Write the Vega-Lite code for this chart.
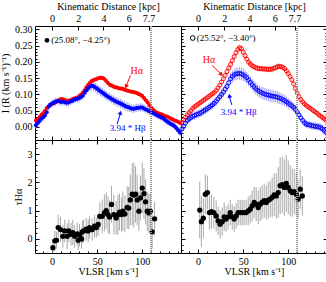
{
"$schema":"https://vega.github.io/schema/vega-lite/v6.json",
"padding":0,
"bounds":"flush",
"spacing":0,
"columns":2,
"config":{"font":"Liberation Serif","view":{"stroke":"black","strokeWidth":1},
"axis":{"domain":false,"grid":false,"tickColor":"black","tickSize":-4,"labelPadding":7,"labelFontSize":10,"titleFontSize":10,"titleFontWeight":"normal","labelColor":"black","titleColor":"black","labelFont":"Liberation Serif","titleFont":"Liberation Serif"}},
"datasets":{
"tl":[
{"v":-18,"a":0.020,"ae":0.005,"b":0.005,"be":0.010},{"v":-16,"a":0.024,"ae":0.005,"b":0.012,"be":0.012},{"v":-14,"a":0.030,"ae":0.006,"b":0.018,"be":0.010},{"v":-12,"a":0.037,"ae":0.005,"b":0.025,"be":0.011},{"v":-10,"a":0.042,"ae":0.006,"b":0.030,"be":0.012},{"v":-8,"a":0.050,"ae":0.005,"b":0.035,"be":0.010},{"v":-6,"a":0.058,"ae":0.006,"b":0.045,"be":0.011},{"v":-4,"a":0.064,"ae":0.005,"b":0.062,"be":0.012},{"v":-2,"a":0.068,"ae":0.005,"b":0.068,"be":0.010},{"v":0,"a":0.071,"ae":0.006,"b":0.072,"be":0.012},{"v":2,"a":0.073,"ae":0.005,"b":0.075,"be":0.011},{"v":4,"a":0.076,"ae":0.005,"b":0.078,"be":0.012},{"v":6,"a":0.080,"ae":0.006,"b":0.080,"be":0.010},{"v":8,"a":0.083,"ae":0.005,"b":0.079,"be":0.012},{"v":10,"a":0.086,"ae":0.005,"b":0.077,"be":0.011},{"v":12,"a":0.085,"ae":0.006,"b":0.078,"be":0.012},{"v":14,"a":0.083,"ae":0.005,"b":0.076,"be":0.010},{"v":16,"a":0.081,"ae":0.005,"b":0.074,"be":0.011},{"v":18,"a":0.080,"ae":0.006,"b":0.075,"be":0.012},{"v":20,"a":0.082,"ae":0.005,"b":0.078,"be":0.010},{"v":22,"a":0.084,"ae":0.005,"b":0.080,"be":0.011},{"v":24,"a":0.087,"ae":0.006,"b":0.083,"be":0.012},{"v":26,"a":0.088,"ae":0.005,"b":0.085,"be":0.011},{"v":28,"a":0.090,"ae":0.005,"b":0.087,"be":0.012},{"v":30,"a":0.094,"ae":0.006,"b":0.089,"be":0.013},{"v":32,"a":0.099,"ae":0.005,"b":0.092,"be":0.012},{"v":34,"a":0.105,"ae":0.006,"b":0.097,"be":0.013},{"v":36,"a":0.113,"ae":0.006,"b":0.105,"be":0.014},{"v":38,"a":0.122,"ae":0.007,"b":0.113,"be":0.013},{"v":40,"a":0.130,"ae":0.006,"b":0.120,"be":0.014},{"v":42,"a":0.136,"ae":0.007,"b":0.124,"be":0.015},{"v":44,"a":0.141,"ae":0.006,"b":0.127,"be":0.014},{"v":46,"a":0.144,"ae":0.007,"b":0.125,"be":0.015},{"v":48,"a":0.146,"ae":0.006,"b":0.121,"be":0.014},{"v":50,"a":0.148,"ae":0.007,"b":0.117,"be":0.015},{"v":52,"a":0.150,"ae":0.006,"b":0.113,"be":0.014},{"v":54,"a":0.151,"ae":0.007,"b":0.109,"be":0.015},{"v":56,"a":0.150,"ae":0.006,"b":0.105,"be":0.014},{"v":58,"a":0.147,"ae":0.007,"b":0.101,"be":0.013},{"v":60,"a":0.141,"ae":0.006,"b":0.097,"be":0.014},{"v":62,"a":0.135,"ae":0.006,"b":0.093,"be":0.013},{"v":64,"a":0.130,"ae":0.006,"b":0.090,"be":0.014},{"v":66,"a":0.127,"ae":0.006,"b":0.086,"be":0.013},{"v":68,"a":0.124,"ae":0.006,"b":0.083,"be":0.014},{"v":70,"a":0.122,"ae":0.006,"b":0.080,"be":0.013},{"v":72,"a":0.121,"ae":0.006,"b":0.077,"be":0.014},{"v":74,"a":0.119,"ae":0.006,"b":0.074,"be":0.013},{"v":76,"a":0.118,"ae":0.006,"b":0.072,"be":0.014},{"v":78,"a":0.117,"ae":0.006,"b":0.069,"be":0.013},{"v":80,"a":0.115,"ae":0.006,"b":0.066,"be":0.014},{"v":82,"a":0.113,"ae":0.006,"b":0.063,"be":0.013},{"v":84,"a":0.111,"ae":0.006,"b":0.061,"be":0.014},{"v":86,"a":0.110,"ae":0.006,"b":0.059,"be":0.013},{"v":88,"a":0.108,"ae":0.006,"b":0.057,"be":0.012},{"v":90,"a":0.107,"ae":0.006,"b":0.056,"be":0.013},{"v":92,"a":0.106,"ae":0.006,"b":0.057,"be":0.012},{"v":94,"a":0.104,"ae":0.006,"b":0.058,"be":0.013},{"v":96,"a":0.101,"ae":0.006,"b":0.059,"be":0.012},{"v":98,"a":0.099,"ae":0.006,"b":0.060,"be":0.013},{"v":100,"a":0.095,"ae":0.006,"b":0.060,"be":0.012},{"v":102,"a":0.089,"ae":0.006,"b":0.057,"be":0.012},{"v":104,"a":0.082,"ae":0.006,"b":0.054,"be":0.011},{"v":106,"a":0.075,"ae":0.006,"b":0.051,"be":0.012},{"v":108,"a":0.067,"ae":0.005,"b":0.048,"be":0.011},{"v":110,"a":0.059,"ae":0.005,"b":0.046,"be":0.010},{"v":112,"a":0.053,"ae":0.005,"b":0.043,"be":0.011},{"v":114,"a":0.048,"ae":0.005,"b":0.040,"be":0.010},{"v":116,"a":0.044,"ae":0.005,"b":0.037,"be":0.011},{"v":118,"a":0.042,"ae":0.005,"b":0.034,"be":0.010},{"v":120,"a":0.040,"ae":0.005,"b":0.031,"be":0.010},{"v":122,"a":0.038,"ae":0.005,"b":0.028,"be":0.010},{"v":124,"a":0.035,"ae":0.005,"b":0.025,"be":0.010},{"v":126,"a":0.033,"ae":0.005,"b":0.020,"be":0.010},{"v":128,"a":0.031,"ae":0.005,"b":0.016,"be":0.010},{"v":130,"a":0.028,"ae":0.005,"b":0.012,"be":0.010},{"v":132,"a":0.025,"ae":0.005,"b":0.009,"be":0.010},{"v":134,"a":0.023,"ae":0.005,"b":0.006,"be":0.010},{"v":136,"a":0.020,"ae":0.005,"b":0.002,"be":0.010},{"v":138,"a":0.018,"ae":0.005,"b":-0.004,"be":0.010},{"v":140,"a":0.015,"ae":0.005,"b":-0.011,"be":0.010},{"v":142,"a":0.012,"ae":0.005,"b":-0.018,"be":0.010}
],
"tr":[
{"v":-18,"a":0.014,"ae":0.006,"b":-0.006,"be":0.012},{"v":-16,"a":0.022,"ae":0.007,"b":0.002,"be":0.013},{"v":-14,"a":0.030,"ae":0.006,"b":0.012,"be":0.012},{"v":-12,"a":0.037,"ae":0.007,"b":0.020,"be":0.013},{"v":-10,"a":0.044,"ae":0.006,"b":0.025,"be":0.012},{"v":-8,"a":0.050,"ae":0.007,"b":0.029,"be":0.013},{"v":-6,"a":0.057,"ae":0.006,"b":0.033,"be":0.012},{"v":-4,"a":0.062,"ae":0.007,"b":0.035,"be":0.013},{"v":-2,"a":0.066,"ae":0.006,"b":0.038,"be":0.012},{"v":0,"a":0.070,"ae":0.007,"b":0.040,"be":0.013},{"v":2,"a":0.074,"ae":0.006,"b":0.042,"be":0.012},{"v":4,"a":0.078,"ae":0.007,"b":0.045,"be":0.013},{"v":6,"a":0.082,"ae":0.006,"b":0.049,"be":0.012},{"v":8,"a":0.086,"ae":0.007,"b":0.052,"be":0.013},{"v":10,"a":0.090,"ae":0.006,"b":0.056,"be":0.012},{"v":12,"a":0.094,"ae":0.007,"b":0.060,"be":0.013},{"v":14,"a":0.098,"ae":0.006,"b":0.064,"be":0.012},{"v":16,"a":0.102,"ae":0.007,"b":0.068,"be":0.013},{"v":18,"a":0.106,"ae":0.006,"b":0.073,"be":0.012},{"v":20,"a":0.112,"ae":0.007,"b":0.079,"be":0.013},{"v":22,"a":0.120,"ae":0.007,"b":0.086,"be":0.014},{"v":24,"a":0.128,"ae":0.007,"b":0.093,"be":0.014},{"v":26,"a":0.138,"ae":0.008,"b":0.100,"be":0.015},{"v":28,"a":0.148,"ae":0.008,"b":0.107,"be":0.015},{"v":30,"a":0.158,"ae":0.008,"b":0.116,"be":0.016},{"v":32,"a":0.170,"ae":0.009,"b":0.124,"be":0.016},{"v":34,"a":0.181,"ae":0.009,"b":0.136,"be":0.017},{"v":36,"a":0.192,"ae":0.009,"b":0.148,"be":0.017},{"v":38,"a":0.204,"ae":0.010,"b":0.155,"be":0.018},{"v":40,"a":0.216,"ae":0.010,"b":0.160,"be":0.018},{"v":42,"a":0.228,"ae":0.010,"b":0.163,"be":0.019},{"v":44,"a":0.238,"ae":0.011,"b":0.164,"be":0.019},{"v":46,"a":0.243,"ae":0.011,"b":0.164,"be":0.019},{"v":48,"a":0.240,"ae":0.011,"b":0.163,"be":0.019},{"v":50,"a":0.230,"ae":0.010,"b":0.160,"be":0.019},{"v":52,"a":0.219,"ae":0.010,"b":0.156,"be":0.018},{"v":54,"a":0.208,"ae":0.010,"b":0.151,"be":0.018},{"v":56,"a":0.199,"ae":0.009,"b":0.144,"be":0.018},{"v":58,"a":0.193,"ae":0.009,"b":0.137,"be":0.018},{"v":60,"a":0.188,"ae":0.009,"b":0.130,"be":0.018},{"v":62,"a":0.185,"ae":0.009,"b":0.124,"be":0.018},{"v":64,"a":0.182,"ae":0.009,"b":0.118,"be":0.018},{"v":66,"a":0.180,"ae":0.009,"b":0.113,"be":0.018},{"v":68,"a":0.179,"ae":0.009,"b":0.109,"be":0.019},{"v":70,"a":0.179,"ae":0.009,"b":0.106,"be":0.018},{"v":72,"a":0.178,"ae":0.009,"b":0.103,"be":0.019},{"v":74,"a":0.178,"ae":0.009,"b":0.101,"be":0.018},{"v":76,"a":0.177,"ae":0.009,"b":0.099,"be":0.019},{"v":78,"a":0.177,"ae":0.009,"b":0.098,"be":0.018},{"v":80,"a":0.177,"ae":0.009,"b":0.096,"be":0.019},{"v":82,"a":0.178,"ae":0.009,"b":0.095,"be":0.018},{"v":84,"a":0.180,"ae":0.009,"b":0.094,"be":0.019},{"v":86,"a":0.182,"ae":0.009,"b":0.093,"be":0.018},{"v":88,"a":0.185,"ae":0.009,"b":0.091,"be":0.019},{"v":90,"a":0.186,"ae":0.009,"b":0.089,"be":0.018},{"v":92,"a":0.185,"ae":0.009,"b":0.087,"be":0.018},{"v":94,"a":0.183,"ae":0.009,"b":0.084,"be":0.017},{"v":96,"a":0.179,"ae":0.009,"b":0.081,"be":0.017},{"v":98,"a":0.172,"ae":0.009,"b":0.077,"be":0.016},{"v":100,"a":0.164,"ae":0.008,"b":0.073,"be":0.016},{"v":102,"a":0.155,"ae":0.008,"b":0.069,"be":0.015},{"v":104,"a":0.145,"ae":0.008,"b":0.065,"be":0.015},{"v":106,"a":0.132,"ae":0.008,"b":0.060,"be":0.014},{"v":108,"a":0.118,"ae":0.007,"b":0.054,"be":0.014},{"v":110,"a":0.105,"ae":0.007,"b":0.046,"be":0.013},{"v":112,"a":0.093,"ae":0.007,"b":0.037,"be":0.013},{"v":114,"a":0.084,"ae":0.007,"b":0.028,"be":0.012},{"v":116,"a":0.077,"ae":0.006,"b":0.020,"be":0.012},{"v":118,"a":0.071,"ae":0.006,"b":0.013,"be":0.012},{"v":120,"a":0.066,"ae":0.006,"b":0.009,"be":0.012},{"v":122,"a":0.062,"ae":0.006,"b":0.007,"be":0.012},{"v":124,"a":0.058,"ae":0.006,"b":0.006,"be":0.012},{"v":126,"a":0.054,"ae":0.006,"b":0.004,"be":0.012},{"v":128,"a":0.050,"ae":0.006,"b":0.003,"be":0.012},{"v":130,"a":0.046,"ae":0.006,"b":0.002,"be":0.012},{"v":132,"a":0.042,"ae":0.006,"b":0.001,"be":0.012},{"v":134,"a":0.037,"ae":0.006,"b":0.000,"be":0.012},{"v":136,"a":0.033,"ae":0.006,"b":-0.002,"be":0.012},{"v":138,"a":0.029,"ae":0.006,"b":-0.006,"be":0.012},{"v":140,"a":0.025,"ae":0.006,"b":-0.011,"be":0.012},{"v":142,"a":0.020,"ae":0.006,"b":-0.017,"be":0.012}
],
"bl":[
{"v":0.8,"t":-0.31,"e":0.19},{"v":3,"t":-0.07,"e":0.35},{"v":4.8,"t":-0.05,"e":0.3},{"v":6.7,"t":0.40,"e":0.45},{"v":9.3,"t":0.33,"e":0.45},{"v":11.9,"t":0.09,"e":0.4},{"v":14,"t":0.28,"e":0.4},{"v":16.7,"t":0.09,"e":0.45},{"v":18.5,"t":0.28,"e":0.4},{"v":21,"t":0.16,"e":0.4},{"v":22.9,"t":0.22,"e":0.45},{"v":25,"t":0.09,"e":0.4},{"v":27.8,"t":0.18,"e":0.4},{"v":28.9,"t":-0.05,"e":0.35},{"v":30.4,"t":0.13,"e":0.4},{"v":32.6,"t":0.0,"e":0.35},{"v":33.5,"t":0.25,"e":0.4},{"v":35,"t":0.28,"e":0.4},{"v":37.8,"t":0.34,"e":0.4},{"v":40,"t":0.28,"e":0.4},{"v":41.5,"t":0.40,"e":0.4},{"v":44.4,"t":0.33,"e":0.4},{"v":47,"t":0.45,"e":0.4},{"v":49,"t":0.40,"e":0.35},{"v":51,"t":0.51,"e":0.4},{"v":52.9,"t":0.80,"e":0.5},{"v":55.6,"t":0.80,"e":0.6},{"v":58,"t":0.92,"e":0.65},{"v":60,"t":1.0,"e":0.65},{"v":62,"t":0.86,"e":0.65},{"v":63.7,"t":0.77,"e":0.6},{"v":65.9,"t":1.22,"e":0.65},{"v":68.5,"t":0.86,"e":0.7},{"v":71,"t":0.74,"e":0.6},{"v":73,"t":0.86,"e":0.7},{"v":74.8,"t":0.95,"e":0.65},{"v":77,"t":0.86,"e":0.6},{"v":78.5,"t":0.98,"e":0.7},{"v":80.7,"t":0.88,"e":0.65},{"v":83.3,"t":1.11,"e":0.75},{"v":85,"t":1.09,"e":0.75},{"v":86.7,"t":1.38,"e":0.9},{"v":88.9,"t":1.58,"e":1.1},{"v":90.7,"t":1.55,"e":1.15},{"v":92.6,"t":1.58,"e":1.0},{"v":94.4,"t":1.38,"e":0.9},{"v":96.3,"t":0.98,"e":0.7},{"v":98,"t":1.45,"e":0.8},{"v":100,"t":1.80,"e":0.9},{"v":101.9,"t":1.60,"e":0.9},{"v":103.7,"t":1.31,"e":0.8},{"v":105.6,"t":0.98,"e":0.7},{"v":107.4,"t":0.92,"e":0.7},{"v":109,"t":0.98,"e":0.6},{"v":111,"t":0.25,"e":0.6},{"v":113.7,"t":0.71,"e":0.6}
],
"br":[
{"v":1.8,"t":1.02,"e":1.0},{"v":3.6,"t":0.61,"e":0.9},{"v":5.8,"t":0.73,"e":0.7},{"v":8,"t":1.58,"e":0.7},{"v":10.3,"t":1.64,"e":0.6},{"v":12.5,"t":0.93,"e":0.6},{"v":14.8,"t":0.96,"e":0.6},{"v":17.4,"t":0.93,"e":0.55},{"v":20,"t":0.81,"e":0.55},{"v":22.2,"t":0.64,"e":0.5},{"v":24.4,"t":0.52,"e":0.5},{"v":26.7,"t":0.61,"e":0.5},{"v":28.9,"t":0.78,"e":0.5},{"v":31,"t":0.70,"e":0.45},{"v":33.3,"t":0.78,"e":0.45},{"v":35.6,"t":0.93,"e":0.45},{"v":37.8,"t":0.78,"e":0.45},{"v":40,"t":0.70,"e":0.45},{"v":42.2,"t":0.81,"e":0.45},{"v":44.4,"t":0.93,"e":0.45},{"v":46.7,"t":0.93,"e":0.45},{"v":48.9,"t":0.93,"e":0.45},{"v":51,"t":0.93,"e":0.45},{"v":53.3,"t":0.93,"e":0.45},{"v":55.6,"t":0.99,"e":0.5},{"v":57.8,"t":1.05,"e":0.5},{"v":60,"t":1.17,"e":0.55},{"v":62.2,"t":1.29,"e":0.55},{"v":64.4,"t":1.23,"e":0.6},{"v":66.7,"t":1.11,"e":0.6},{"v":68.9,"t":1.23,"e":0.6},{"v":71,"t":1.29,"e":0.6},{"v":73.3,"t":1.35,"e":0.6},{"v":75.6,"t":1.29,"e":0.6},{"v":77.8,"t":1.37,"e":0.65},{"v":80,"t":1.41,"e":0.65},{"v":82.2,"t":1.47,"e":0.7},{"v":84.4,"t":1.56,"e":0.75},{"v":86.7,"t":1.52,"e":0.8},{"v":88.9,"t":1.64,"e":0.9},{"v":91,"t":1.88,"e":1.0},{"v":93.3,"t":1.92,"e":1.0},{"v":95.6,"t":1.82,"e":1.0},{"v":97.8,"t":1.96,"e":1.0},{"v":100,"t":1.82,"e":0.95},{"v":102.2,"t":1.70,"e":0.9},{"v":104.4,"t":1.64,"e":0.85},{"v":106.7,"t":1.67,"e":0.8},{"v":108.9,"t":1.58,"e":0.75},{"v":111,"t":1.41,"e":0.7},{"v":113.3,"t":1.76,"e":0.7},{"v":115.6,"t":1.52,"e":0.7}
]
},
"concat":[
{
"width":146,"height":114,
"data":{"name":"tl"},
"resolve":{"axis":{"x":"independent","y":"independent"}},
"layer":[
{"mark":{"type":"errorbar","color":"#ff9a9a"},"encoding":{"x":{"field":"v","type":"quantitative","scale":{"domain":[-19,143],"nice":false,"zero":false},"axis":{"orient":"bottom","values":[0,50,100],"labels":false,"title":null}},"y":{"field":"a","type":"quantitative","scale":{"domain":[-0.04,0.31],"nice":false,"zero":false},"axis":null},"yError":{"field":"ae"}}},
{"mark":{"type":"errorbar","color":"#9a9aff"},"encoding":{"x":{"field":"v","type":"quantitative","scale":{"domain":[-19,143],"nice":false,"zero":false},"axis":{"orient":"bottom","values":[-10,10,20,30,40,60,70,80,90,110,120,130,140],"labels":false,"title":null,"tickSize":-2}},"y":{"field":"b","type":"quantitative","scale":{"domain":[-0.04,0.31],"nice":false,"zero":false},"axis":null},"yError":{"field":"be"}}},
{"mark":{"type":"point","filled":true,"color":"#ff0000","size":16,"opacity":1},"encoding":{"x":{"field":"v","type":"quantitative","scale":{"domain":[-19,143],"nice":false,"zero":false},"axis":null},"y":{"field":"a","type":"quantitative","scale":{"domain":[-0.04,0.31],"nice":false,"zero":false},"axis":{"orient":"left","values":[0,0.05,0.1,0.15,0.2,0.25,0.3],"format":".2f","title":"I (R (km s⁻¹)⁻¹)"}}}},
{"mark":{"type":"point","filled":true,"color":"#0000ff","size":16,"opacity":1},"encoding":{"x":{"field":"v","type":"quantitative","scale":{"domain":[-19,143],"nice":false,"zero":false},"axis":null},"y":{"field":"b","type":"quantitative","scale":{"domain":[-0.04,0.31],"nice":false,"zero":false},"axis":{"orient":"left","values":[-0.03,-0.02,-0.01,0.01,0.02,0.03,0.04,0.06,0.07,0.08,0.09,0.11,0.12,0.13,0.14,0.16,0.17,0.18,0.19,0.21,0.22,0.23,0.24,0.26,0.27,0.28,0.29],"labels":false,"title":null,"tickSize":-2}}}},
{"mark":{"type":"rule","color":"#909090","strokeDash":[1,1]},"encoding":{"x":{"datum":110,"type":"quantitative","scale":{"domain":[-19,143],"nice":false,"zero":false},"axis":{"orient":"top","values":[0,29,57,85,107],"labelExpr":"datum.value==0?'0':datum.value==29?'2':datum.value==57?'4':datum.value==85?'6':'7.7'","title":"Kinematic Distance [kpc]","titlePadding":2}}}},
{"data":{"values":[{"v":-5.7,"I":0.266}]},"mark":{"type":"point","filled":true,"color":"black","size":22,"opacity":1},"encoding":{"x":{"field":"v","type":"quantitative","scale":{"domain":[-19,143],"nice":false,"zero":false},"axis":null},"y":{"field":"I","type":"quantitative","scale":{"domain":[-0.04,0.31],"nice":false,"zero":false},"axis":null}}},
{"data":{"values":[{"v":-1,"I":0.266,"t":"(25.08°, −4.25°)"}]},"mark":{"type":"text","align":"left","baseline":"middle","fontSize":9,"color":"black"},"encoding":{"x":{"field":"v","type":"quantitative","scale":{"domain":[-19,143],"nice":false,"zero":false},"axis":null},"y":{"field":"I","type":"quantitative","scale":{"domain":[-0.04,0.31],"nice":false,"zero":false},"axis":null},"text":{"field":"t"}}},
{"data":{"values":[{"v":94,"I":0.173,"t":"Hα"}]},"mark":{"type":"text","align":"center","baseline":"middle","fontSize":10,"color":"#ff0000"},"encoding":{"x":{"field":"v","type":"quantitative","scale":{"domain":[-19,143],"nice":false,"zero":false},"axis":null},"y":{"field":"I","type":"quantitative","scale":{"domain":[-0.04,0.31],"nice":false,"zero":false},"axis":null},"text":{"field":"t"}}},
{"data":{"values":[{"v":83.8,"I":-0.003,"t":"3.94 * Hβ"}]},"mark":{"type":"text","align":"center","baseline":"middle","fontSize":9,"color":"#0000ff"},"encoding":{"x":{"field":"v","type":"quantitative","scale":{"domain":[-19,143],"nice":false,"zero":false},"axis":null},"y":{"field":"I","type":"quantitative","scale":{"domain":[-0.04,0.31],"nice":false,"zero":false},"axis":null},"text":{"field":"t"}}},
{"data":{"values":[{"v":86.9,"I":0.158,"v2":82.4,"I2":0.127}]},"mark":{"type":"rule","color":"#ff0000"},"encoding":{"x":{"field":"v","type":"quantitative","scale":{"domain":[-19,143],"nice":false,"zero":false},"axis":null},"y":{"field":"I","type":"quantitative","scale":{"domain":[-0.04,0.31],"nice":false,"zero":false},"axis":null},"x2":{"field":"v2"},"y2":{"field":"I2"}}},
{"data":{"values":[{"v":82.1,"I":0.124}]},"mark":{"type":"point","shape":"triangle-up","filled":true,"color":"#ff0000","size":22,"angle":201,"opacity":1},"encoding":{"x":{"field":"v","type":"quantitative","scale":{"domain":[-19,143],"nice":false,"zero":false},"axis":null},"y":{"field":"I","type":"quantitative","scale":{"domain":[-0.04,0.31],"nice":false,"zero":false},"axis":null}}},
{"data":{"values":[{"v":72.1,"I":0.009,"v2":75.6,"I2":0.041}]},"mark":{"type":"rule","color":"#0000ff"},"encoding":{"x":{"field":"v","type":"quantitative","scale":{"domain":[-19,143],"nice":false,"zero":false},"axis":null},"y":{"field":"I","type":"quantitative","scale":{"domain":[-0.04,0.31],"nice":false,"zero":false},"axis":null},"x2":{"field":"v2"},"y2":{"field":"I2"}}},
{"data":{"values":[{"v":75.8,"I":0.044}]},"mark":{"type":"point","shape":"triangle-up","filled":true,"color":"#0000ff","size":22,"angle":16,"opacity":1},"encoding":{"x":{"field":"v","type":"quantitative","scale":{"domain":[-19,143],"nice":false,"zero":false},"axis":null},"y":{"field":"I","type":"quantitative","scale":{"domain":[-0.04,0.31],"nice":false,"zero":false},"axis":null}}}
]
},
{
"width":146,"height":114,
"data":{"name":"tr"},
"resolve":{"axis":{"x":"independent","y":"independent"}},
"layer":[
{"mark":{"type":"errorbar","color":"#ff9a9a"},"encoding":{"x":{"field":"v","type":"quantitative","scale":{"domain":[-19,143],"nice":false,"zero":false},"axis":{"orient":"bottom","values":[0,50,100],"labels":false,"title":null}},"y":{"field":"a","type":"quantitative","scale":{"domain":[-0.04,0.31],"nice":false,"zero":false},"axis":{"orient":"right","values":[0,0.05,0.1,0.15,0.2,0.25,0.3],"labels":false,"title":null}},"yError":{"field":"ae"}}},
{"mark":{"type":"errorbar","color":"#9a9aff"},"encoding":{"x":{"field":"v","type":"quantitative","scale":{"domain":[-19,143],"nice":false,"zero":false},"axis":{"orient":"bottom","values":[-10,10,20,30,40,60,70,80,90,110,120,130,140],"labels":false,"title":null,"tickSize":-2}},"y":{"field":"b","type":"quantitative","scale":{"domain":[-0.04,0.31],"nice":false,"zero":false},"axis":{"orient":"right","values":[-0.03,-0.02,-0.01,0.01,0.02,0.03,0.04,0.06,0.07,0.08,0.09,0.11,0.12,0.13,0.14,0.16,0.17,0.18,0.19,0.21,0.22,0.23,0.24,0.26,0.27,0.28,0.29],"labels":false,"title":null,"tickSize":-2}},"yError":{"field":"be"}}},
{"mark":{"type":"point","filled":false,"color":"#ff0000","size":16,"strokeWidth":0.9,"opacity":1},"encoding":{"x":{"field":"v","type":"quantitative","scale":{"domain":[-19,143],"nice":false,"zero":false},"axis":null},"y":{"field":"a","type":"quantitative","scale":{"domain":[-0.04,0.31],"nice":false,"zero":false},"axis":{"orient":"left","values":[0,0.05,0.1,0.15,0.2,0.25,0.3],"labels":false,"title":null}}}},
{"mark":{"type":"point","filled":false,"color":"#0000ff","size":16,"strokeWidth":0.9,"opacity":1},"encoding":{"x":{"field":"v","type":"quantitative","scale":{"domain":[-19,143],"nice":false,"zero":false},"axis":null},"y":{"field":"b","type":"quantitative","scale":{"domain":[-0.04,0.31],"nice":false,"zero":false},"axis":{"orient":"left","values":[-0.03,-0.02,-0.01,0.01,0.02,0.03,0.04,0.06,0.07,0.08,0.09,0.11,0.12,0.13,0.14,0.16,0.17,0.18,0.19,0.21,0.22,0.23,0.24,0.26,0.27,0.28,0.29],"labels":false,"title":null,"tickSize":-2}}}},
{"mark":{"type":"rule","color":"#909090","strokeDash":[1,1]},"encoding":{"x":{"datum":110,"type":"quantitative","scale":{"domain":[-19,143],"nice":false,"zero":false},"axis":{"orient":"top","values":[0,29,57,85,107],"labelExpr":"datum.value==0?'0':datum.value==29?'2':datum.value==57?'4':datum.value==85?'6':'7.7'","title":"Kinematic Distance [kpc]","titlePadding":2}}}},
{"data":{"values":[{"v":-6,"I":0.273}]},"mark":{"type":"point","filled":false,"color":"black","size":22,"strokeWidth":1,"opacity":1},"encoding":{"x":{"field":"v","type":"quantitative","scale":{"domain":[-19,143],"nice":false,"zero":false},"axis":null},"y":{"field":"I","type":"quantitative","scale":{"domain":[-0.04,0.31],"nice":false,"zero":false},"axis":null}}},
{"data":{"values":[{"v":-1.5,"I":0.273,"t":"(25.52°, −3.40°)"}]},"mark":{"type":"text","align":"left","baseline":"middle","fontSize":9,"color":"black"},"encoding":{"x":{"field":"v","type":"quantitative","scale":{"domain":[-19,143],"nice":false,"zero":false},"axis":null},"y":{"field":"I","type":"quantitative","scale":{"domain":[-0.04,0.31],"nice":false,"zero":false},"axis":null},"text":{"field":"t"}}},
{"data":{"values":[{"v":12,"I":0.207,"t":"Hα"}]},"mark":{"type":"text","align":"center","baseline":"middle","fontSize":10,"color":"#ff0000"},"encoding":{"x":{"field":"v","type":"quantitative","scale":{"domain":[-19,143],"nice":false,"zero":false},"axis":null},"y":{"field":"I","type":"quantitative","scale":{"domain":[-0.04,0.31],"nice":false,"zero":false},"axis":null},"text":{"field":"t"}}},
{"data":{"values":[{"v":45.1,"I":0.046,"t":"3.94 * Hβ"}]},"mark":{"type":"text","align":"center","baseline":"middle","fontSize":9,"color":"#0000ff"},"encoding":{"x":{"field":"v","type":"quantitative","scale":{"domain":[-19,143],"nice":false,"zero":false},"axis":null},"y":{"field":"I","type":"quantitative","scale":{"domain":[-0.04,0.31],"nice":false,"zero":false},"axis":null},"text":{"field":"t"}}},
{"data":{"values":[{"v":15.4,"I":0.189,"v2":25.3,"I2":0.163}]},"mark":{"type":"rule","color":"#ff0000"},"encoding":{"x":{"field":"v","type":"quantitative","scale":{"domain":[-19,143],"nice":false,"zero":false},"axis":null},"y":{"field":"I","type":"quantitative","scale":{"domain":[-0.04,0.31],"nice":false,"zero":false},"axis":null},"x2":{"field":"v2"},"y2":{"field":"I2"}}},
{"data":{"values":[{"v":25.8,"I":0.161}]},"mark":{"type":"point","shape":"triangle-up","filled":true,"color":"#ff0000","size":22,"angle":134,"opacity":1},"encoding":{"x":{"field":"v","type":"quantitative","scale":{"domain":[-19,143],"nice":false,"zero":false},"axis":null},"y":{"field":"I","type":"quantitative","scale":{"domain":[-0.04,0.31],"nice":false,"zero":false},"axis":null}}},
{"data":{"values":[{"v":37.3,"I":0.068,"v2":34.8,"I2":0.093}]},"mark":{"type":"rule","color":"#0000ff"},"encoding":{"x":{"field":"v","type":"quantitative","scale":{"domain":[-19,143],"nice":false,"zero":false},"axis":null},"y":{"field":"I","type":"quantitative","scale":{"domain":[-0.04,0.31],"nice":false,"zero":false},"axis":null},"x2":{"field":"v2"},"y2":{"field":"I2"}}},
{"data":{"values":[{"v":34.7,"I":0.096}]},"mark":{"type":"point","shape":"triangle-up","filled":true,"color":"#0000ff","size":22,"angle":348,"opacity":1},"encoding":{"x":{"field":"v","type":"quantitative","scale":{"domain":[-19,143],"nice":false,"zero":false},"axis":null},"y":{"field":"I","type":"quantitative","scale":{"domain":[-0.04,0.31],"nice":false,"zero":false},"axis":null}}}
]
},
{
"width":146,"height":113,
"data":{"name":"bl"},
"resolve":{"axis":{"x":"independent","y":"independent"}},
"layer":[
{"mark":{"type":"errorbar","color":"#a8a8a8"},"encoding":{"x":{"field":"v","type":"quantitative","scale":{"domain":[-19,143],"nice":false,"zero":false},"axis":{"orient":"bottom","values":[0,50,100],"title":"VLSR [km s⁻¹]","titlePadding":0}},"y":{"field":"t","type":"quantitative","scale":{"domain":[-0.5,3.5],"nice":false,"zero":false},"axis":{"orient":"left","values":[0,1,2,3],"title":"τHα"}},"yError":{"field":"e"}}},
{"mark":{"type":"point","filled":true,"color":"black","size":28,"opacity":1},"encoding":{"x":{"field":"v","type":"quantitative","scale":{"domain":[-19,143],"nice":false,"zero":false},"axis":{"orient":"bottom","values":[-10,10,20,30,40,60,70,80,90,110,120,130,140],"labels":false,"title":null,"tickSize":-2}},"y":{"field":"t","type":"quantitative","scale":{"domain":[-0.5,3.5],"nice":false,"zero":false},"axis":{"orient":"left","values":[-0.4,-0.2,0.2,0.4,0.6,0.8,1.2,1.4,1.6,1.8,2.2,2.4,2.6,2.8,3.2,3.4],"labels":false,"title":null,"tickSize":-2}}}},
{"mark":{"type":"rule","color":"#909090","strokeDash":[1,1]},"encoding":{"x":{"datum":110,"type":"quantitative","scale":{"domain":[-19,143],"nice":false,"zero":false},"axis":{"orient":"top","values":[0,50,100],"labels":false,"title":null}}}}
]
},
{
"width":146,"height":113,
"data":{"name":"br"},
"resolve":{"axis":{"x":"independent","y":"independent"}},
"layer":[
{"mark":{"type":"errorbar","color":"#a8a8a8"},"encoding":{"x":{"field":"v","type":"quantitative","scale":{"domain":[-19,143],"nice":false,"zero":false},"axis":{"orient":"bottom","values":[0,50,100],"title":"VLSR [km s⁻¹]","titlePadding":0}},"y":{"field":"t","type":"quantitative","scale":{"domain":[-0.5,3.5],"nice":false,"zero":false},"axis":{"orient":"left","values":[0,1,2,3],"labels":false,"title":null}},"yError":{"field":"e"}}},
{"mark":{"type":"point","filled":true,"color":"black","size":28,"opacity":1},"encoding":{"x":{"field":"v","type":"quantitative","scale":{"domain":[-19,143],"nice":false,"zero":false},"axis":{"orient":"bottom","values":[-10,10,20,30,40,60,70,80,90,110,120,130,140],"labels":false,"title":null,"tickSize":-2}},"y":{"field":"t","type":"quantitative","scale":{"domain":[-0.5,3.5],"nice":false,"zero":false},"axis":{"orient":"left","values":[-0.4,-0.2,0.2,0.4,0.6,0.8,1.2,1.4,1.6,1.8,2.2,2.4,2.6,2.8,3.2,3.4],"labels":false,"title":null,"tickSize":-2}}}},
{"mark":{"type":"point","opacity":0},"encoding":{"x":{"field":"v","type":"quantitative","scale":{"domain":[-19,143],"nice":false,"zero":false},"axis":null},"y":{"field":"t","type":"quantitative","scale":{"domain":[-0.5,3.5],"nice":false,"zero":false},"axis":{"orient":"right","values":[0,1,2,3],"labels":false,"title":null}}}},
{"mark":{"type":"rule","color":"#909090","strokeDash":[1,1]},"encoding":{"x":{"datum":110,"type":"quantitative","scale":{"domain":[-19,143],"nice":false,"zero":false},"axis":{"orient":"top","values":[0,50,100],"labels":false,"title":null}}}}
]
}
]
}
